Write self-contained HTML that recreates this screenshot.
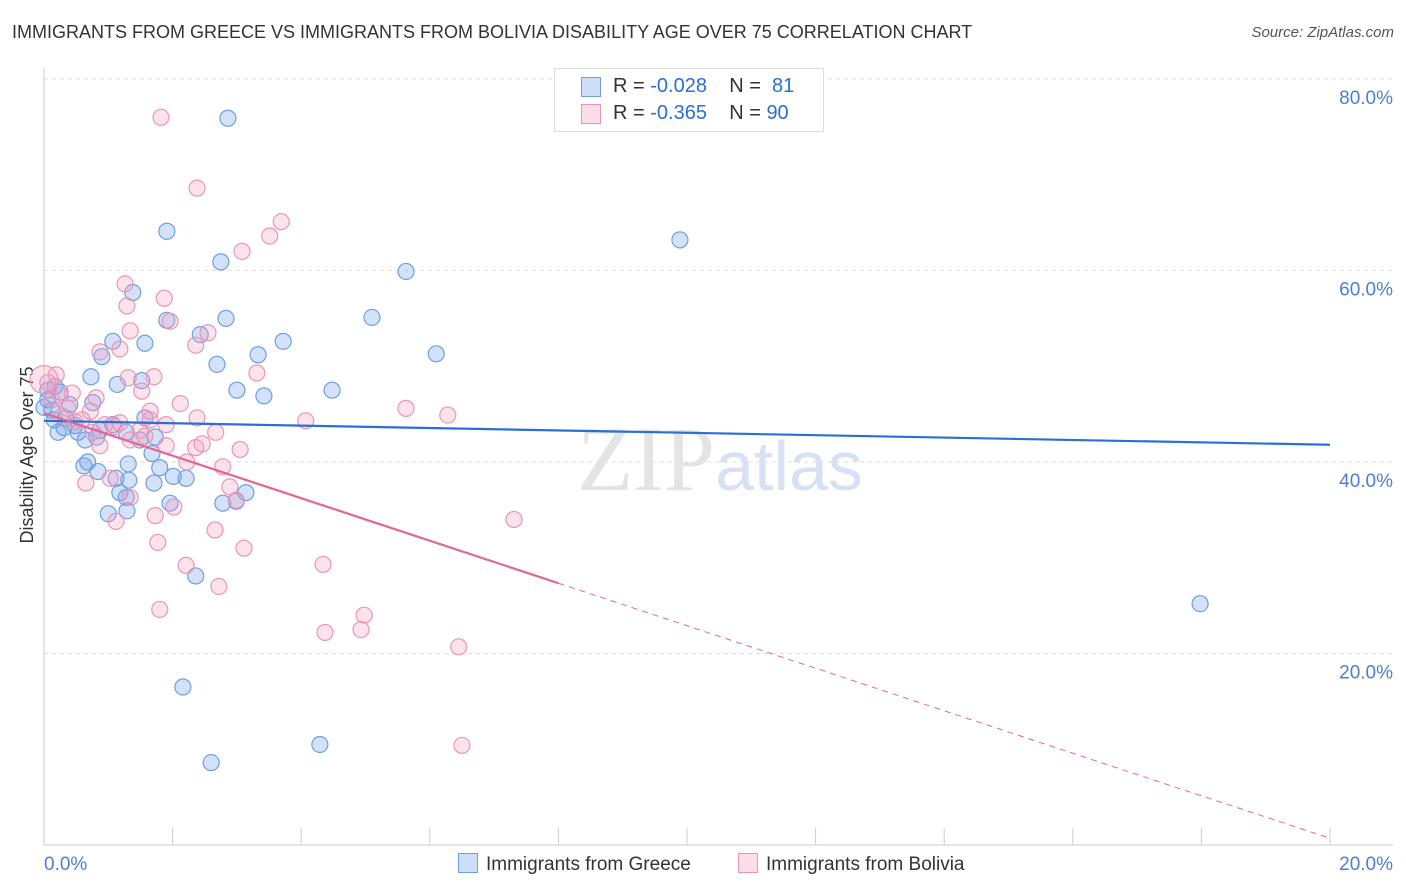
<!DOCTYPE html>
<html><head><meta charset="utf-8">
<style>
body{margin:0;background:#fff;font-family:"Liberation Sans",sans-serif;}
#wrap{position:relative;width:1406px;height:892px;overflow:hidden;}
.t{position:absolute;white-space:nowrap;}
</style></head>
<body>
<div id="wrap">
<div class="t" style="left:12px;top:22px;font-size:18px;color:#333;">IMMIGRANTS FROM GREECE VS IMMIGRANTS FROM BOLIVIA DISABILITY AGE OVER 75 CORRELATION CHART</div>
<div class="t" style="right:12px;top:24px;font-size:15px;color:#555;font-style:italic;">Source: ZipAtlas.com</div>
<svg id="chart" width="1406" height="892" style="position:absolute;left:0;top:0;"></svg>
</div>
<script>
const blueX=[2.86,1.91,9.89,2.75,5.63,1.38,1.91,2.83,5.10,2.43,3.72,1.57,1.07,0.90,3.33,6.10,2.69,0.73,1.14,1.52,3.00,4.48,3.42,0.17,0.25,0.06,0.40,0.76,1.57,0.16,0.31,0.53,0.82,1.07,1.28,1.73,1.49,1.68,0.68,0.62,0.84,1.31,1.80,2.01,2.21,1.12,1.32,1.71,1.18,1.28,1.96,3.14,2.99,2.78,1.00,1.29,2.36,17.98,2.16,4.29,2.60,0.06,0.12,0.34,0.48,0.22,0.0,0.87,0.64];
const blueY=[75.9,64.1,63.2,60.9,59.9,57.7,54.8,55.0,55.1,53.3,52.6,52.4,52.6,51.0,51.2,51.3,50.2,48.9,48.1,48.5,47.5,47.5,46.9,47.9,47.3,46.5,46.0,46.2,44.6,44.4,43.6,43.1,42.6,43.9,43.1,42.6,42.3,40.9,40.0,39.6,39.0,39.8,39.4,38.5,38.3,38.3,38.1,37.8,36.8,36.3,35.7,36.8,35.9,35.7,34.6,34.9,28.1,25.2,16.5,10.5,8.6,47.5,45.4,44.6,43.8,43.1,45.7,43.3,42.3];
const pinkX=[1.82,2.38,3.69,3.51,3.08,1.26,1.29,1.87,1.96,1.34,2.55,2.36,1.18,0.87,3.31,1.31,1.71,1.52,0.19,0.06,0.0,0.44,0.81,2.12,2.38,4.07,5.63,6.28,0.72,0.28,0.48,0.95,1.10,1.49,1.65,1.18,1.90,2.36,2.67,3.05,2.46,1.57,2.22,2.78,0.87,0.65,1.03,1.34,2.02,1.73,2.89,2.99,1.12,2.66,1.77,3.11,2.21,4.34,2.72,1.80,4.98,4.37,4.93,6.45,7.31,6.50,0.37,0.59,0.12,0.25,0.76,1.34,1.90,1.65];
const pinkY=[76.0,68.6,65.1,63.6,62.0,58.6,56.3,57.1,54.7,53.7,53.5,52.2,51.8,51.5,49.3,48.8,48.9,47.4,49.1,48.3,48.6,47.2,46.7,46.1,44.6,44.3,45.6,44.9,45.3,44.8,44.2,43.9,43.7,43.3,44.4,44.1,41.7,41.5,43.1,41.3,41.9,42.7,40.0,39.5,41.7,37.8,38.3,36.3,35.3,34.4,37.4,36.0,33.8,32.9,31.6,31.0,29.2,29.3,27.0,24.6,24.0,22.2,22.5,20.7,34.0,10.4,45.6,44.4,46.5,47.0,43.1,42.3,43.9,45.3];
const blueTrend=[44.3,41.8];
const pinkTrend=[45.1,0.7];
const pinkSolidEnd=8.0;
const yTicks=[20,40,60,80];
const xTickLabels=["0.0%","20.0%"];

const svg=document.getElementById('chart');
const NS='http://www.w3.org/2000/svg';
const X0=44,X1=1330,Y0=845,Y80=79;
const sx=v=>X0+(X1-X0)*v/20;
const sy=v=>Y0-(Y0-Y80)*v/80;
function mk(tag,attrs,parent){const e=document.createElementNS(NS,tag);for(const k in attrs)e.setAttribute(k,attrs[k]);(parent||svg).appendChild(e);return e;}

// grid
yTicks.forEach(t=>{
  const g=mk('line',{x1:X0,x2:1393,y1:sy(t),y2:sy(t),stroke:'#ddd','stroke-dasharray':'4,4'});
  
  
  const lb=mk('text',{x:1393,y:sy(t)+25,'text-anchor':'end','font-size':19,fill:'#4a7fd4','font-family':'Liberation Sans, sans-serif'});
  lb.textContent=t.toFixed(1)+'%';
  
  
});
// axes
const ya=mk('line',{x1:X0,x2:X0,y1:68,y2:Y0,stroke:'#ccc'});


const xa=mk('line',{x1:X0,x2:1393,y1:Y0,y2:Y0,stroke:'#ccc'});


for(let i=0;i<=10;i++){
  const tk=mk('line',{x1:sx(i*2),x2:sx(i*2),y1:828,y2:Y0,stroke:'#ccc'});
  
  
}
const xl0=mk('text',{x:44,y:870,'font-size':19,fill:'#4a7fd4','font-family':'Liberation Sans, sans-serif'});
xl0.textContent=xTickLabels[0];


const xl1=mk('text',{x:1393,y:870,'text-anchor':'end','font-size':19,fill:'#4a7fd4','font-family':'Liberation Sans, sans-serif'});
xl1.textContent=xTickLabels[1];


const yt=mk('text',{x:33,y:455,'text-anchor':'middle','font-size':18,fill:'#333',transform:'rotate(-90 33 455)','font-family':'Liberation Sans, sans-serif'});
yt.textContent='Disability Age Over 75';


// watermark
const wm=mk('text',{x:720,y:490,'text-anchor':'middle','font-size':92,fill:'#e4e4e4','font-family':'Liberation Serif, serif'});
wm.innerHTML='ZIP<tspan fill="#d6e2f3" font-family="Liberation Sans, sans-serif" font-size="70">atlas</tspan>';


// points
blueX.forEach((x,i)=>{
  const c=mk('circle',{cx:sx(x),cy:sy(blueY[i]),r:8,fill:'rgba(110,160,235,0.3)',stroke:'#6d9fe3','stroke-width':1.2});
  
  
});
pinkX.forEach((x,i)=>{
  const c=mk('circle',{cx:sx(x),cy:sy(pinkY[i]),r:(x===0?14:8),fill:'rgba(245,160,190,0.3)',stroke:'#eb95b5','stroke-width':1.2});
  
  
});
// trends
const bt=mk('line',{x1:sx(0),y1:sy(blueTrend[0]),x2:sx(20),y2:sy(blueTrend[1]),stroke:'#2a6fd6','stroke-width':2.2});


const pAt=x=>pinkTrend[0]+(pinkTrend[1]-pinkTrend[0])*x/20;
const pt=mk('line',{x1:sx(0),y1:sy(pAt(0)),x2:sx(pinkSolidEnd),y2:sy(pAt(pinkSolidEnd)),stroke:'#e46694','stroke-width':2.2});


const pd=mk('line',{x1:sx(pinkSolidEnd),y1:sy(pAt(pinkSolidEnd)),x2:sx(20),y2:sy(pAt(20)),stroke:'#e46694','stroke-width':1,'stroke-dasharray':'6,5'});


</script>
<div class="t" style="left:554px;top:68px;width:268px;height:62px;border:1px solid #ddd;background:#fff;font-size:20px;color:#333;">
  <div style="position:absolute;left:26px;top:8px;width:18px;height:18px;background:rgba(110,160,235,0.35);border:1px solid #6d9fe3;"></div>
  <div class="t" style="left:58px;top:6px;">R = <span style="color:#2a6fd6">-0.028</span>&nbsp;&nbsp;&nbsp; N = &nbsp;<span style="color:#2a6fd6">81</span></div>
  <div style="position:absolute;left:26px;top:35px;width:18px;height:18px;background:rgba(245,160,190,0.35);border:1px solid #eb95b5;"></div>
  <div class="t" style="left:58px;top:33px;">R = <span style="color:#2a6fd6">-0.365</span>&nbsp;&nbsp;&nbsp; N = <span style="color:#2a6fd6">90</span></div>
</div>
<div class="t" style="left:458px;top:853px;font-size:19px;color:#333;">
  <span style="display:inline-block;width:18px;height:18px;background:rgba(110,160,235,0.35);border:1px solid #6d9fe3;vertical-align:-3px;margin-right:8px;"></span>Immigrants from Greece</div>
<div class="t" style="left:738px;top:853px;font-size:19px;color:#333;">
  <span style="display:inline-block;width:18px;height:18px;background:rgba(245,160,190,0.35);border:1px solid #eb95b5;vertical-align:-3px;margin-right:8px;"></span>Immigrants from Bolivia</div>
</body></html>
